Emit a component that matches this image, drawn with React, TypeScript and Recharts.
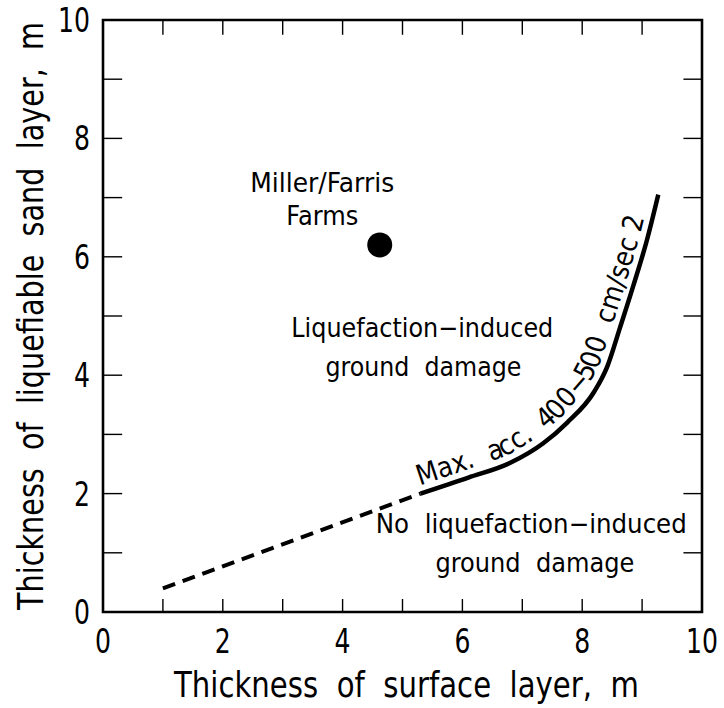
import React from 'react'
import {
  ComposedChart, Line, Scatter, XAxis, YAxis, ReferenceDot, ReferenceLine, ReferenceArea,
} from 'recharts'

const FONT = '"DejaVu Sans", "Liberation Sans", sans-serif'

// axis ticks (m); labels only on even values
const axisTicks = [0, 1, 2, 3, 4, 5, 6, 7, 8, 9, 10]

// boundary, extrapolated part (dashed)
const dashedBoundary = [
  { x: 1.0, y: 0.4 },
  { x: 5.3, y: 2.0 },
]

// boundary for max. acc. 400-500 cm/sec2 (solid)
const solidBoundary = [
  { x: 5.3, y: 2.0 },
  { x: 6.1, y: 2.27 },
  { x: 6.8, y: 2.52 },
  { x: 7.35, y: 2.85 },
  { x: 7.75, y: 3.2 },
  { x: 8.2, y: 3.72 },
  { x: 8.42, y: 4.15 },
  { x: 8.63, y: 4.8 },
  { x: 8.85, y: 5.5 },
  { x: 9.08, y: 6.28 },
  { x: 9.27, y: 7.05 },
]

// Miller/Farris Farms site
const site = [{ x: 4.62, y: 6.2 }]

const curveLabel = 'Max.  acc.  400\u2212500  cm/sec 2'

// narrow-looking text: glyphs squeezed to a given width
function T({ w, size, children, ...rest }: any) {
  return (
    <text fontFamily={FONT} fontSize={size} fill="#000" textLength={w}
      lengthAdjust="spacingAndGlyphs" style={{ whiteSpace: 'pre' }} {...rest}>
      {children}
    </text>
  )
}

// pixel points of the solid curve, so its label can run along it
const curvePts: number[][] = []
function CurveDot(p: any) {
  curvePts[p.index] = [p.cx, p.cy]
  if (p.index !== solidBoundary.length - 1) return <g key={`pt-${p.index}`} />
  const d = curvePts.map((q, i) => `${i ? 'L' : 'M'}${q[0]},${q[1]}`).join(' ')
  return (
    <g key="curve-label">
      <path id="accPath" d={d} fill="none" stroke="none" />
      <text fontFamily={FONT} fontSize={28} fill="#000" dy={-8} style={{ whiteSpace: 'pre' }}>
        <textPath href="#accPath" startOffset={2} textLength={386} lengthAdjust="spacingAndGlyphs">
          {curveLabel}
        </textPath>
      </text>
    </g>
  )
}

function XTick(p: any) {
  const v = p.payload.value
  if (v % 2) return <g />
  return <T x={p.x} y={p.y} w={String(v).length * 16} size={33} textAnchor="middle">{v}</T>
}

function YTick(p: any) {
  const v = p.payload.value
  if (v % 2) return <g />
  return <T x={p.x} y={p.y + 12} w={String(v).length * 16} size={33} textAnchor="end">{v}</T>
}

function note(text: string, w: number) {
  return (p: any) => <T x={p.cx} y={p.cy} w={w} size={27} textAnchor="middle">{text}</T>
}

const tickStroke = { stroke: '#000', strokeWidth: 1.4 }

export default function App() {
  return (
    <div style={{ position: 'absolute', left: 0, top: 0, background: '#fff' }}>
      <ComposedChart width={724} height={708} margin={{ top: 20, right: 22, bottom: 0, left: 0 }}>
        <XAxis
          type="number" dataKey="x" domain={[0, 10]} ticks={axisTicks} interval={0}
          height={96} tickSize={0} tickMargin={41} tick={<XTick />}
          axisLine={false} tickLine={false}
          label={(p: any) => (
            <T x={p.viewBox.x + p.viewBox.width / 2 + 4} y={697} w={465} size={36} textAnchor="middle">
              Thickness  of  surface  layer,  m
            </T>
          )}
        />
        <YAxis
          type="number" domain={[0, 10]} ticks={axisTicks} interval={0}
          width={103} tickSize={0} tickMargin={13} tick={<YTick />}
          axisLine={false} tickLine={false}
          label={(p: any) => {
            const cy = p.viewBox.y + p.viewBox.height / 2
            return (
              <T x={43} y={cy} transform={`rotate(-90, 43, ${cy})`} w={588} size={36} textAnchor="middle">
                Thickness  of  liquefiable  sand  layer,  m
              </T>
            )
          }}
        />

        {/* inward tick marks on all four sides */}
        {axisTicks.map(t => (
          <ReferenceLine key={`b${t}`} segment={[{ x: t, y: 0 }, { x: t, y: 0.22 }]} {...tickStroke} />
        ))}
        {axisTicks.map(t => (
          <ReferenceLine key={`t${t}`} segment={[{ x: t, y: 10 }, { x: t, y: 9.75 }]} {...tickStroke} />
        ))}
        {axisTicks.map(t => (
          <ReferenceLine key={`l${t}`} segment={[{ x: 0, y: t }, { x: 0.32, y: t }]} {...tickStroke} />
        ))}
        {axisTicks.map(t => (
          <ReferenceLine key={`r${t}`} segment={[{ x: 10, y: t }, { x: 9.69, y: t }]} {...tickStroke} />
        ))}
        <ReferenceArea x1={0} x2={10} y1={0} y2={10} fill="none" fillOpacity={0}
          stroke="#000" strokeWidth={2.6} ifOverflow="visible" />

        <Line data={dashedBoundary} dataKey="y" type="linear" stroke="#000" strokeWidth={4}
          strokeDasharray="13 8" dot={false} activeDot={false} isAnimationActive={false} />
        <Line data={solidBoundary} dataKey="y" type="monotone" stroke="#000" strokeWidth={4.5}
          dot={CurveDot} activeDot={false} isAnimationActive={false} />
        <Scatter data={site} dataKey="y" isAnimationActive={false}
          shape={(p: any) => <circle cx={p.cx} cy={p.cy} r={12.5} fill="#000" />} />

        <ReferenceDot x={3.66} y={7.09} r={0} shape={note('Miller/Farris', 144)} />
        <ReferenceDot x={3.66} y={6.54} r={0} shape={note('Farms', 72)} />
        <ReferenceDot x={5.33} y={4.645} r={0} shape={note('Liquefaction\u2212induced', 262)} />
        <ReferenceDot x={5.35} y={3.99} r={0} shape={note('ground  damage', 196)} />
        <ReferenceDot x={7.15} y={1.33} r={0} shape={note('No  liquefaction\u2212induced', 311)} />
        <ReferenceDot x={7.21} y={0.68} r={0} shape={note('ground  damage', 199)} />
      </ComposedChart>
    </div>
  )
}
